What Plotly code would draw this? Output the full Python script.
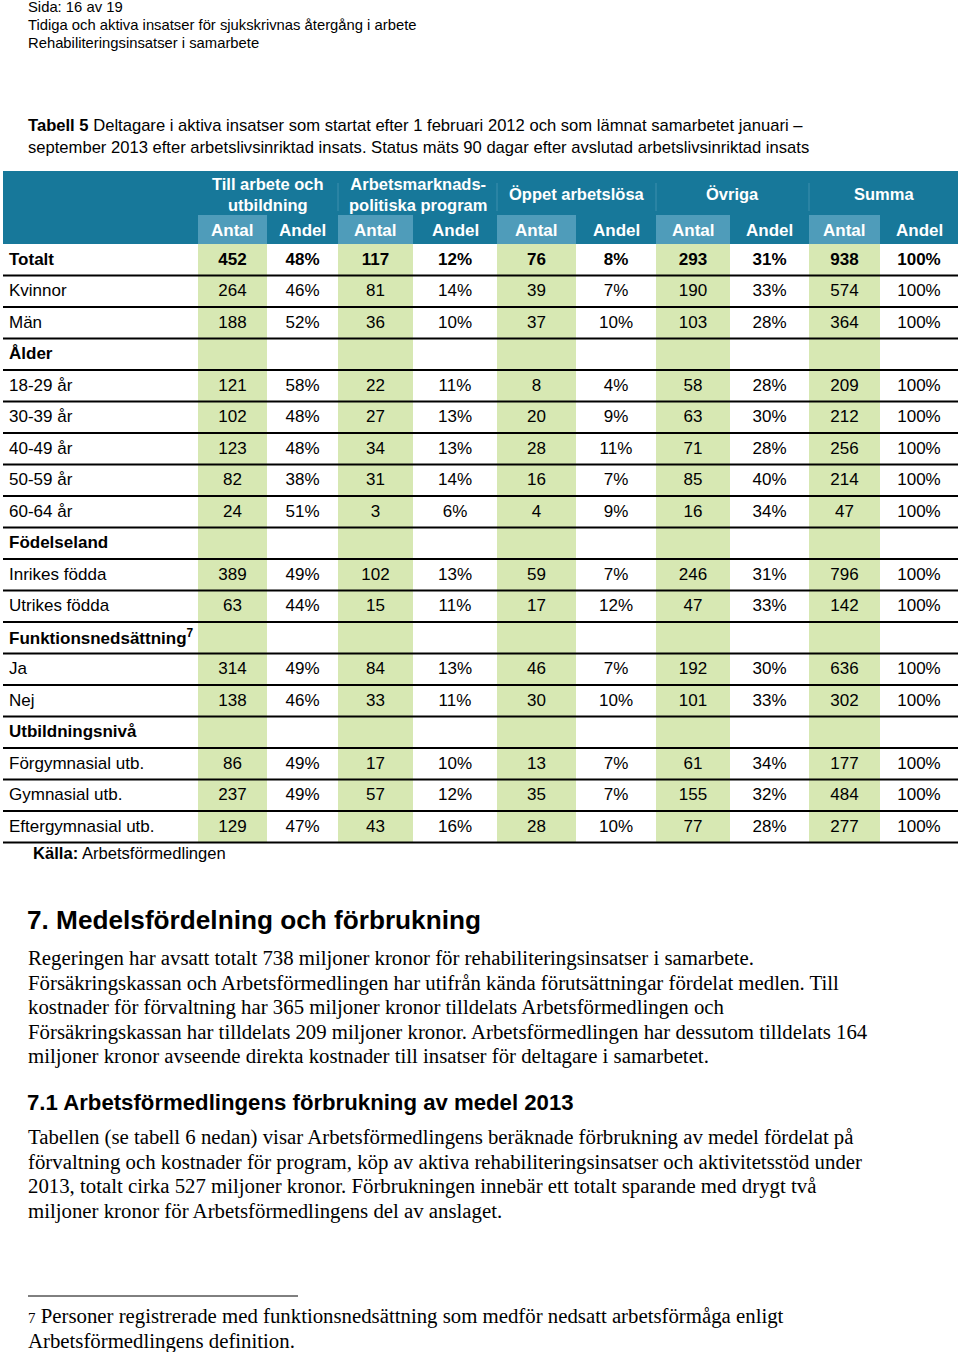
import plotly.graph_objects as go

# ---------------- data ----------------
row_labels = ["Totalt", "Kvinnor", "Män", "Ålder", "18-29 år", "30-39 år", "40-49 år",
              "50-59 år", "60-64 år", "Födelseland", "Inrikes födda", "Utrikes födda",
              "Funktionsnedsättning<sup>7</sup>", "Ja", "Nej", "Utbildningsnivå",
              "Förgymnasial utb.", "Gymnasial utb.", "Eftergymnasial utb."]
bold_rows = [0, 3, 9, 12, 15]

group_labels = ["Till arbete och<br>utbildning", "Arbetsmarknads-<br>politiska program",
                "Öppet arbetslösa", "Övriga", "Summa"]
sub_labels = ["Antal", "Andel"]

N = None
till_antal = [452, 264, 188, N, 121, 102, 123, 82, 24, N, 389, 63, N, 314, 138, N, 86, 237, 129]
till_andel = [48, 46, 52, N, 58, 48, 48, 38, 51, N, 49, 44, N, 49, 46, N, 49, 49, 47]
amp_antal = [117, 81, 36, N, 22, 27, 34, 31, 3, N, 102, 15, N, 84, 33, N, 17, 57, 43]
amp_andel = [12, 14, 10, N, 11, 13, 13, 14, 6, N, 13, 11, N, 13, 11, N, 10, 12, 16]
opp_antal = [76, 39, 37, N, 8, 20, 28, 16, 4, N, 59, 17, N, 46, 30, N, 13, 35, 28]
opp_andel = [8, 7, 10, N, 4, 9, 11, 7, 9, N, 7, 12, N, 7, 10, N, 7, 7, 10]
ovr_antal = [293, 190, 103, N, 58, 63, 71, 85, 16, N, 246, 47, N, 192, 101, N, 61, 155, 77]
ovr_andel = [31, 33, 28, N, 28, 30, 28, 40, 34, N, 31, 33, N, 30, 33, N, 34, 32, 28]
sum_antal = [938, 574, 364, N, 209, 212, 256, 214, 47, N, 796, 142, N, 636, 302, N, 177, 484, 277]
sum_andel = [100, 100, 100, N, 100, 100, 100, 100, 100, N, 100, 100, N, 100, 100, N, 100, 100, 100]

columns = [till_antal, till_andel, amp_antal, amp_andel, opp_antal, opp_andel,
           ovr_antal, ovr_andel, sum_antal, sum_andel]

page_header = ["Sida: 16 av 19",
               "Tidiga och aktiva insatser för sjukskrivnas återgång i arbete",
               "Rehabiliteringsinsatser i samarbete"]
table_title = ["<b>Tabell 5</b> Deltagare i aktiva insatser som startat efter 1 februari 2012 och som lämnat samarbetet januari –",
               "september 2013 efter arbetslivsinriktad insats. Status mäts 90 dagar efter avslutad arbetslivsinriktad insats"]
source_text = "<b>Källa:</b> Arbetsförmedlingen"
heading1 = "<b>7. Medelsfördelning och förbrukning</b>"
para1 = ["Regeringen har avsatt totalt 738 miljoner kronor för rehabiliteringsinsatser i samarbete.",
         "Försäkringskassan och Arbetsförmedlingen har utifrån kända förutsättningar fördelat medlen. Till",
         "kostnader för förvaltning har 365 miljoner kronor tilldelats Arbetsförmedlingen och",
         "Försäkringskassan har tilldelats 209 miljoner kronor. Arbetsförmedlingen har dessutom tilldelats 164",
         "miljoner kronor avseende direkta kostnader till insatser för deltagare i samarbetet."]
heading2 = "<b>7.1 Arbetsförmedlingens förbrukning av medel 2013</b>"
para2 = ["Tabellen (se tabell 6 nedan) visar Arbetsförmedlingens beräknade förbrukning av medel fördelat på",
         "förvaltning och kostnader för program, köp av aktiva rehabiliteringsinsatser och aktivitetsstöd under",
         "2013, totalt cirka 527 miljoner kronor. Förbrukningen innebär ett totalt sparande med drygt två",
         "miljoner kronor för Arbetsförmedlingens del av anslaget."]
footnote = ["<span style='font-size:15px'>7</span> Personer registrerade med funktionsnedsättning som medför nedsatt arbetsförmåga enligt",
            "Arbetsförmedlingens definition."]

# ---------------- layout geometry ----------------
SANS = "Liberation Sans, Arial, sans-serif"
SERIF = "Liberation Serif, Georgia, serif"
DARK = "#17789a"
LIGHT = "#4f9cba"
GREEN = "#d7e8b3"

col_edges = [198, 267, 338, 413, 497, 576, 656, 730, 809, 880, 958]
tbl_left, tbl_right = 3, 958
hdr_top, hdr_mid, hdr_bot = 171, 215, 244
row_h = 31.5
n_rows = len(row_labels)
LX = -2  # annotation padding compensation

shapes = []
annotations = []

# header background
shapes.append(dict(type="rect", x0=tbl_left, x1=tbl_right, y0=hdr_top, y1=hdr_bot,
                   fillcolor=DARK, line_width=0, layer="below"))
# faint separators in group header row
for gi in range(1, 5):
    xe = col_edges[gi * 2]
    shapes.append(dict(type="line", x0=xe, x1=xe, y0=hdr_top + 12, y1=hdr_mid - 4,
                       line=dict(color="#3f8fae", width=1)))
table_bottom = hdr_bot + row_h * n_rows
for ci in range(len(columns)):
    x0, x1 = col_edges[ci], col_edges[ci + 1]
    if ci % 2 == 0:
        shapes.append(dict(type="rect", x0=x0, x1=x1, y0=hdr_mid, y1=hdr_bot,
                           fillcolor=LIGHT, line_width=0, layer="below"))
        shapes.append(dict(type="rect", x0=x0, x1=x1, y0=hdr_bot, y1=table_bottom,
                           fillcolor=GREEN, line_width=0, layer="below"))
    annotations.append(dict(x=(x0 + x1) / 2, y=(hdr_mid + hdr_bot) / 2 + 1,
                            text="<b>" + sub_labels[ci % 2] + "</b>", showarrow=False,
                            font=dict(family=SANS, size=17, color="white"),
                            xanchor="center", yanchor="middle"))
for gi, g in enumerate(group_labels):
    x0, x1 = col_edges[gi * 2], col_edges[gi * 2 + 2]
    annotations.append(dict(x=(x0 + x1) / 2, y=(hdr_top + hdr_mid) / 2 + 1,
                            text="<b>" + g + "</b>", showarrow=False,
                            font=dict(family=SANS, size=16.5, color="white"),
                            xanchor="center", yanchor="middle"))

# row lines
for i in range(n_rows):
    yl = hdr_bot + row_h * (i + 1)
    shapes.append(dict(type="line", x0=tbl_left, x1=tbl_right, y0=yl, y1=yl,
                       line=dict(color="black", width=2)))

# row labels
for i, lab in enumerate(row_labels):
    yc = hdr_bot + row_h * i + 15
    txt = "<b>" + lab + "</b>" if i in bold_rows else lab
    annotations.append(dict(x=9 + LX, y=yc, text=txt, showarrow=False,
                            font=dict(family=SANS, size=17, color="black"),
                            xanchor="left", yanchor="middle"))

fig = go.Figure()

# values as text traces
for ci, col in enumerate(columns):
    xs, ys, ts = [], [], []
    xc = (col_edges[ci] + col_edges[ci + 1]) / 2
    for i, v in enumerate(col):
        if v is None:
            continue
        s = f"{v}%" if ci % 2 == 1 else f"{v}"
        if i in bold_rows:
            s = "<b>" + s + "</b>"
        xs.append(xc)
        ys.append(hdr_bot + row_h * i + 16.5)
        ts.append(s)
    fig.add_trace(go.Scatter(x=xs, y=ys, text=ts, mode="text", textposition="middle center",
                             textfont=dict(family=SANS, size=17, color="black"),
                             hoverinfo="skip", showlegend=False))

# page header
for k, t in enumerate(page_header):
    annotations.append(dict(x=28 + LX, y=7 + 18 * k, text=t, showarrow=False,
                            font=dict(family=SANS, size=14.8, color="black"),
                            xanchor="left", yanchor="middle"))
for k, t in enumerate(table_title):
    annotations.append(dict(x=28 + LX, y=125 + 22 * k, text=t, showarrow=False,
                            font=dict(family=SANS, size=16.6, color="black"),
                            xanchor="left", yanchor="middle"))
annotations.append(dict(x=33 + LX, y=853, text=source_text, showarrow=False,
                        font=dict(family=SANS, size=16.6, color="black"),
                        xanchor="left", yanchor="middle"))
annotations.append(dict(x=27 + LX, y=920, text=heading1, showarrow=False,
                        font=dict(family=SANS, size=26.2, color="black"),
                        xanchor="left", yanchor="middle"))
for k, t in enumerate(para1):
    annotations.append(dict(x=28 + LX, y=958 + 24.6 * k, text=t, showarrow=False,
                            font=dict(family=SERIF, size=20.8, color="black"),
                            xanchor="left", yanchor="middle"))
annotations.append(dict(x=27 + LX, y=1102, text=heading2, showarrow=False,
                        font=dict(family=SANS, size=22.2, color="black"),
                        xanchor="left", yanchor="middle"))
for k, t in enumerate(para2):
    annotations.append(dict(x=28 + LX, y=1137 + 24.6 * k, text=t, showarrow=False,
                            font=dict(family=SERIF, size=20.8, color="black"),
                            xanchor="left", yanchor="middle"))
shapes.append(dict(type="line", x0=28, x1=298, y0=1296, y1=1296,
                   line=dict(color="black", width=1)))
for k, t in enumerate(footnote):
    annotations.append(dict(x=28 + LX, y=1316 + 25 * k, text=t, showarrow=False,
                            font=dict(family=SERIF, size=20.8, color="black"),
                            xanchor="left", yanchor="middle"))

fig.update_layout(
    width=960, height=1352,
    margin=dict(l=0, r=0, t=0, b=0),
    paper_bgcolor="white", plot_bgcolor="white",
    xaxis=dict(range=[0, 960], visible=False, fixedrange=True),
    yaxis=dict(range=[1352, 0], visible=False, fixedrange=True),
    shapes=shapes, annotations=annotations,
)
fig.write_html("out.html", config={"displayModeBar": False},
               post_script="document.body.style.margin='0';document.body.style.overflow='hidden';")
